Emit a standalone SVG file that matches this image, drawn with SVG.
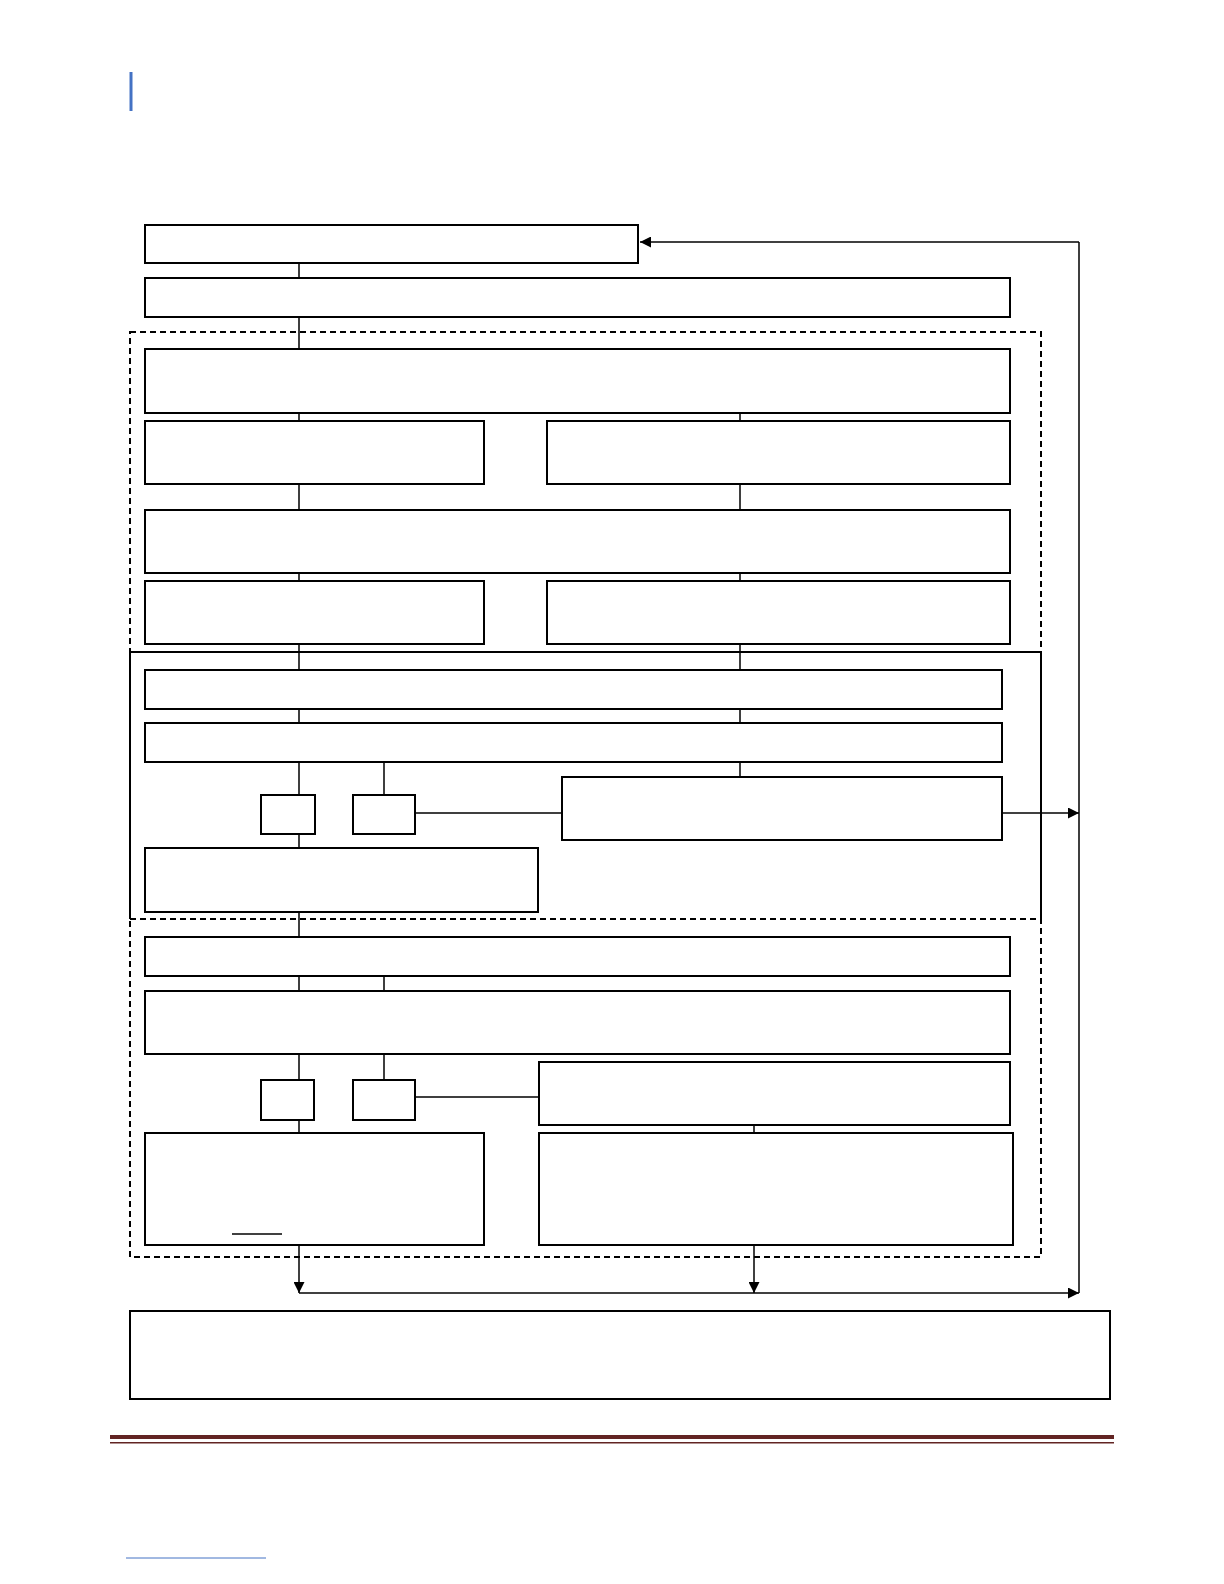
<svg xmlns="http://www.w3.org/2000/svg" width="1224" height="1584" viewBox="0 0 1224 1584">
<defs>
<style>
.n{fill:#fff;stroke:#000;stroke-width:2}
.c{fill:none;stroke:#000;stroke-width:1.5}
.d{fill:none;stroke:#000;stroke-width:2;stroke-dasharray:6 4}
</style>
<marker id="ah" viewBox="0 0 10 10" refX="10" refY="5" markerWidth="11" markerHeight="11" orient="auto" markerUnits="userSpaceOnUse"><path d="M0,0L10,5L0,10z" fill="#000"/></marker>
</defs>
<rect width="1224" height="1584" fill="#fff"/>
<line x1="131" y1="72" x2="131" y2="111" stroke="#4472c4" stroke-width="3"/>
<g id="regions">
<rect x="130" y="332" width="911" height="320" class="d"/>
<path d="M130,652 V919 M1041,652 V919 M130,652 H1041" stroke="#000" stroke-width="2" fill="none"/>
<line x1="130" y1="919" x2="1041" y2="919" class="d"/>
<rect x="130" y="919" width="911" height="338" class="d"/>
</g>
<g id="connectors">
<path class="c" d="M299,263V349 M299,413V421 M740,413V421 M299,484V510 M740,484V510 M299,573V581 M740,573V581 M299,644V670 M740,644V670 M299,709V723 M740,709V723 M299,762V795 M384,762V795 M740,762V777 M299,834V848 M299,912V937 M299,976V991 M384,976V991 M299,1054V1080 M384,1054V1080 M299,1120V1133 M754,1125V1133 M415,813H562 M415,1097H539 M1079,242V1293"/>
<line x1="1079" y1="242" x2="640" y2="242" class="c" marker-end="url(#ah)"/>
<line x1="1002" y1="813" x2="1079" y2="813" class="c" marker-end="url(#ah)"/>
<line x1="299" y1="1293" x2="1079" y2="1293" class="c" stroke-width="2" marker-end="url(#ah)"/>
<line x1="299" y1="1245" x2="299" y2="1293" class="c" marker-end="url(#ah)"/>
<line x1="754" y1="1245" x2="754" y2="1293" class="c" marker-end="url(#ah)"/>
</g>
<g id="nA"><rect class="n" x="145" y="225" width="493" height="38"/></g>
<g id="nB"><rect class="n" x="145" y="278" width="865" height="39"/></g>
<g id="nC"><rect class="n" x="145" y="349" width="865" height="64"/></g>
<g id="nD1"><rect class="n" x="145" y="421" width="339" height="63"/></g>
<g id="nD2"><rect class="n" x="547" y="421" width="463" height="63"/></g>
<g id="nE"><rect class="n" x="145" y="510" width="865" height="63"/></g>
<g id="nF1"><rect class="n" x="145" y="581" width="339" height="63"/></g>
<g id="nF2"><rect class="n" x="547" y="581" width="463" height="63"/></g>
<g id="nG"><rect class="n" x="145" y="670" width="857" height="39"/></g>
<g id="nH"><rect class="n" x="145" y="723" width="857" height="39"/></g>
<g id="nS1"><rect class="n" x="261" y="795" width="54" height="39"/></g>
<g id="nS2"><rect class="n" x="353" y="795" width="62" height="39"/></g>
<g id="nI"><rect class="n" x="562" y="777" width="440" height="63"/></g>
<g id="nJ"><rect class="n" x="145" y="848" width="393" height="64"/></g>
<g id="nK"><rect class="n" x="145" y="937" width="865" height="39"/></g>
<g id="nL"><rect class="n" x="145" y="991" width="865" height="63"/></g>
<g id="nS3"><rect class="n" x="261" y="1080" width="53" height="40"/></g>
<g id="nS4"><rect class="n" x="353" y="1080" width="62" height="40"/></g>
<g id="nM"><rect class="n" x="539" y="1062" width="471" height="63"/></g>
<g id="nN"><rect class="n" x="145" y="1133" width="339" height="112"/><line x1="232" y1="1234" x2="282" y2="1234" stroke="#000" stroke-width="1.5"/></g>
<g id="nO"><rect class="n" x="539" y="1133" width="474" height="112"/></g>
<g id="nP"><rect class="n" x="130" y="1311" width="980" height="88"/></g>
<rect x="110" y="1435" width="1004" height="4" fill="#622423"/>
<rect x="110" y="1442" width="1004" height="1.5" fill="#622423"/>
<line x1="126" y1="1558" x2="266" y2="1558" stroke="#4472c4" stroke-width="1"/>
</svg>
